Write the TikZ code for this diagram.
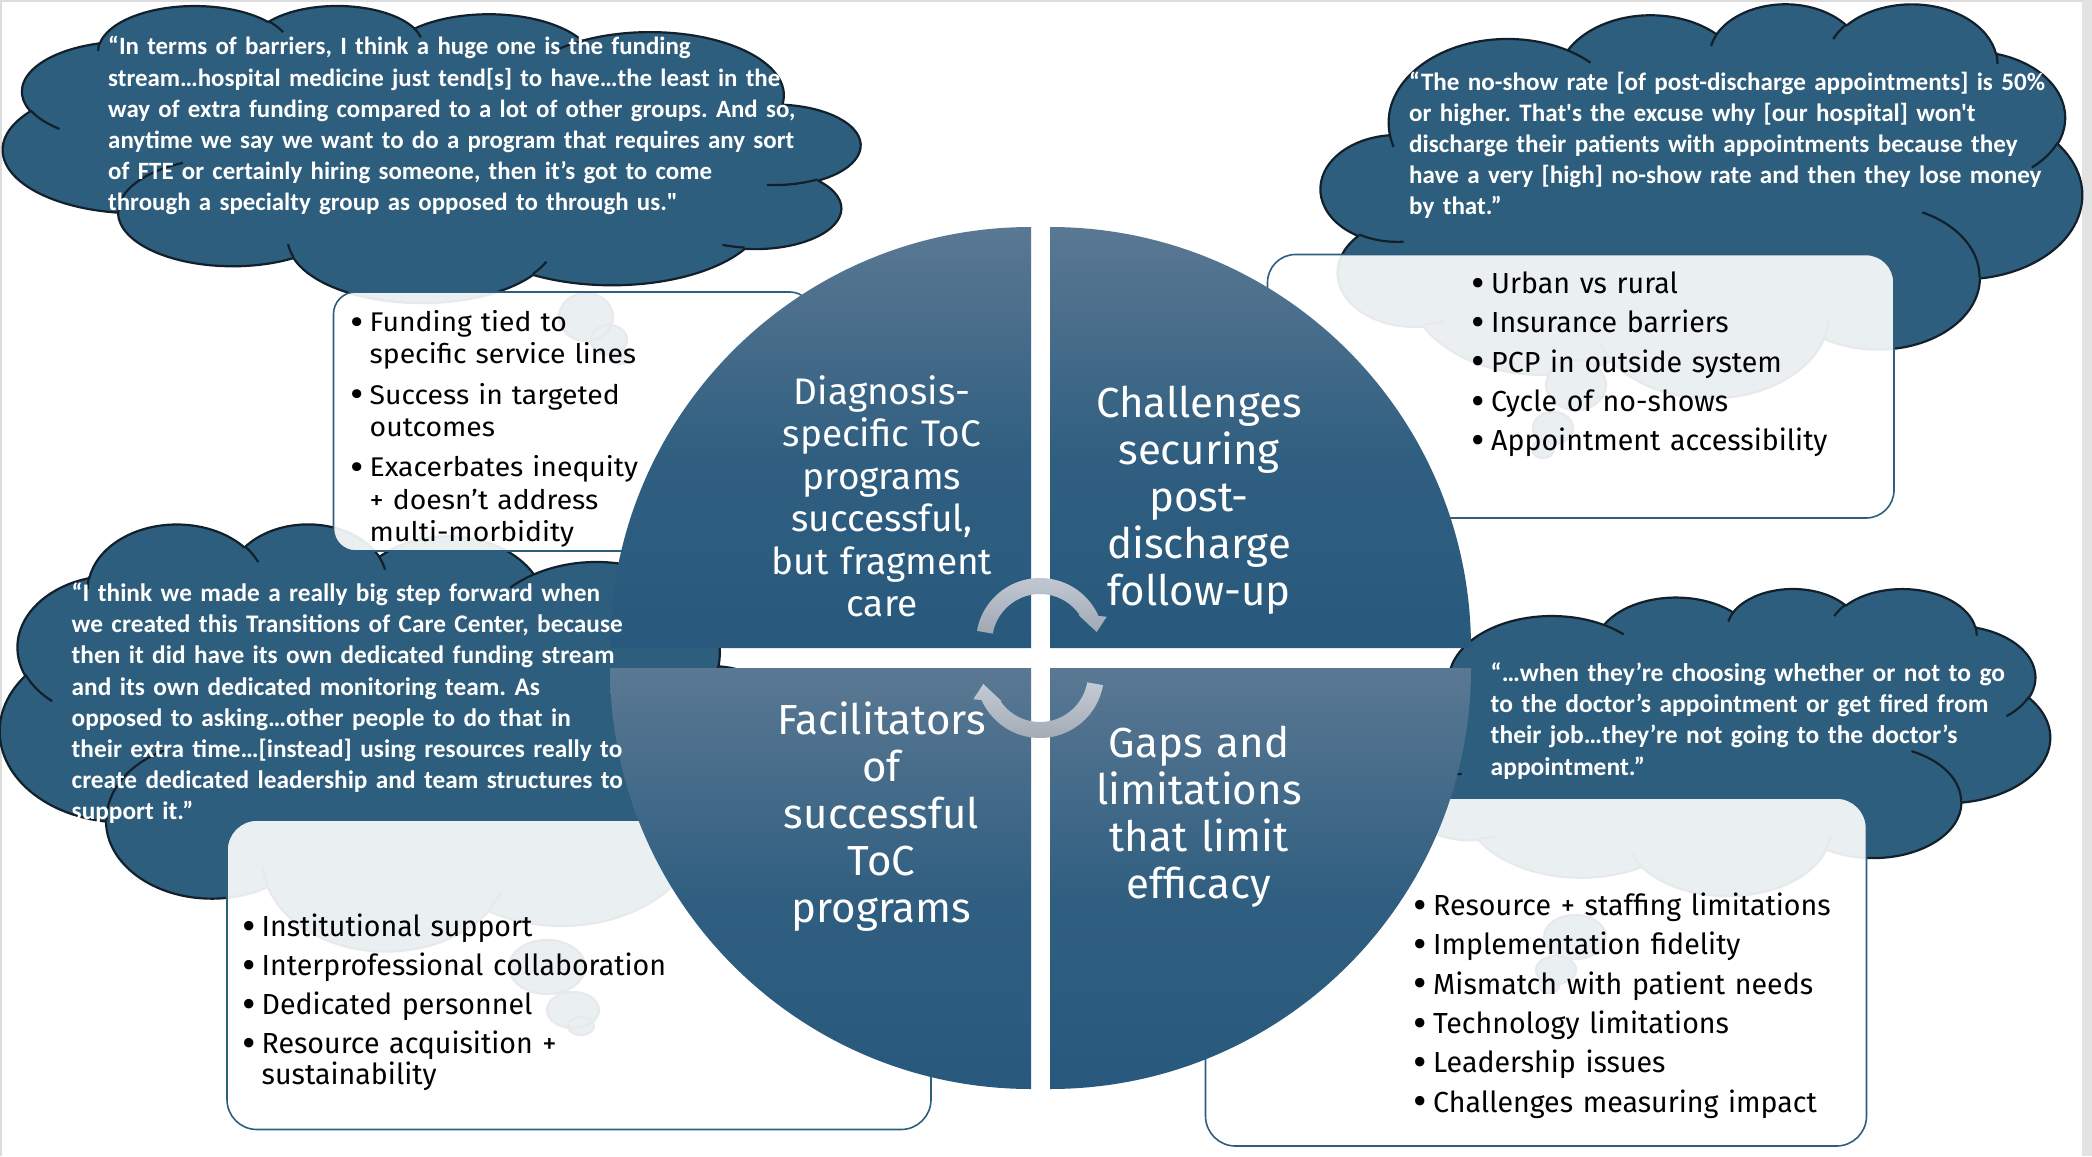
\documentclass[tikz,border=0pt]{standalone}
\usepackage{fontspec}
\usepackage{graphicx}
\newfontfamily\aptos{Fira Sans}
\newfontfamily\aptosw{Fira Sans}[FakeStretch=1.05]
\newfontfamily\aptosn{Fira Sans}[FakeStretch=0.985]
\newfontfamily\quotef{Carlito}
\frenchspacing
\definecolor{cloudblue}{HTML}{2E5E7E}
\definecolor{cloudline}{HTML}{12202C}
\definecolor{boxline}{HTML}{2E5E7E}
\definecolor{qlight}{HTML}{5A7893}
\definecolor{qmid}{HTML}{2F5E80}
\definecolor{qdark}{HTML}{28597C}
\definecolor{arrlight}{HTML}{C4CBD5}
\definecolor{arrdark}{HTML}{A0A8B4}
\definecolor{frameg}{HTML}{DCDCDC}
\pgfdeclareverticalshading{quad}{100bp}{color(0bp)=(qdark); color(25bp)=(qdark); color(47bp)=(qmid); color(75bp)=(qlight); color(100bp)=(qlight)}
\tikzset{
  parc/.style n args={4}{insert path={arc[x radius=#1, y radius=#2,
     start angle={atan2((#1)*sin(#3),(#2)*cos(#3))},
     delta angle={atan2((#1)*sin((#3)+(#4)),(#2)*cos((#3)+(#4)))-atan2((#1)*sin(#3),(#2)*cos(#3))-360*round((atan2((#1)*sin((#3)+(#4)),(#2)*cos((#3)+(#4)))-atan2((#1)*sin(#3),(#2)*cos(#3))-(#4))/360)}]}},
  cloudrest/.style={insert path={[parc={67.53}{91.90}{-190.4875}{123.7805}] [parc={53.33}{72.67}{-144.1024}{89.9452}] [parc={43.65}{59.45}{-145.8079}{99.7230}] [parc={48.57}{65.95}{-130.9861}{117.2417}] [parc={53.33}{72.73}{-78.7089}{109.0269}] [parc={67.75}{92.20}{-46.2673}{130.2690}] [parc={57.85}{78.67}{0.6250}{114.0333}] [parc={67.52}{92.15}{22.4516}{115.1726}] [parc={77.20}{105.43}{66.2426}{75.7110}] [parc={43.60}{59.18}{-274.9421}{146.7356}] [parc={43.45}{59.45}{-246.8285}{152.5189}] -- cycle}},
  innerrest/.style={insert path={[parc={43.45}{59.45}{86.742}{26.4295}] (69.28,348.99) [parc={43.60}{59.18}{73.6105}{11.4475}] (164.78,390.90) [parc={67.52}{92.15}{137.6242}{14.0811}] (288.27,347.51) [parc={67.52}{92.15}{6.4533}{15.9984}] (341.29,229.54) [parc={57.85}{78.67}{-70.2924}{70.9174}] (417.98,153.54) [parc={53.33}{72.73}{30.3180}{27.7515}] (383.24,54.26) [parc={48.57}{65.95}{-13.7443}{14.8589}] (290.78,39.52) [parc={48.57}{65.95}{-149.1815}{18.1954}] (221.41,47.20) [parc={43.65}{59.45}{-163.4943}{17.6864}] (140.00,51.92) [parc={67.53}{91.90}{-66.7070}{12.3194}] (41.27,157.89) [parc={67.53}{91.90}{157.6544}{11.8582}]}},
  cloudbody/.style={fill=cloudblue, draw=cloudline, line width=2.2pt},
  cloudinner/.style={draw=cloudline, line width=2.2pt},
  boxstyle/.style={draw=boxline, line width=1.6pt, fill=white, fill opacity=0.9},
  qlabel/.style={text=white, align=center, anchor=base, inner sep=0pt, text width=340pt},
  quotetext/.style={text=white, align=left, anchor=base west, inner sep=0pt, text width=820pt},
  bullettext/.style={text=black, align=left, anchor=base west, inner sep=0pt, text width=560pt},
}
\newcommand\bu{\makebox[15.5pt][l]{\hspace*{-4pt}\raisebox{-0.13em}{\scalebox{1.45}{•}}}}
\newcommand\ind{\hspace*{15.5pt}}
\newcommand\qfont[1]{\quotef\bfseries\fontsize{#1}{31.1}\selectfont}
\begin{document}
\begin{tikzpicture}[x=1pt, y=-1pt, line join=round]
\useasboundingbox (0,0) rectangle (2092,1156);
\fill[white] (0,0) rectangle (2092,1156);
\fill[frameg] (0,0) rectangle (2092,2);
\fill[frameg] (0,0) rectangle (2,1156);
\fill[frameg!80] (2082,0) rectangle (2092,1156);

% ---- clouds ----
\begin{scope}[shift={(860,5)}, xscale=-1.98380, yscale=0.6875]
  \path[cloudbody] (39.00,143.70) [cloudrest];
  \path[cloudinner] (46.93,261.77) [innerrest];
\end{scope}
\begin{scope}[shift={(1321,3)}, xscale=1.76157, yscale=0.91204]
  \path[cloudbody] (39.00,143.70) [cloudrest];
  \path[cloudinner] (46.93,261.77) [innerrest];
\end{scope}
\begin{scope}[shift={(790,523)}, xscale=-1.82870, yscale=0.98843]
  \path[cloudbody] (39.00,143.70) [cloudrest];
  \path[cloudinner] (46.93,261.77) [innerrest];
\end{scope}
\begin{scope}[shift={(1390,588)}, xscale=1.52778, yscale=0.71065]
  \path[cloudbody] (39.00,143.70) [cloudrest];
  \path[cloudinner] (46.93,261.77) [innerrest];
\end{scope}
% callout tails
\path[cloudbody] (586,317) ellipse[x radius=27, y radius=24] (609,340) ellipse[x radius=18, y radius=15] (621,356) ellipse[x radius=9, y radius=8];
\path[cloudbody] (1576,385) ellipse[x radius=30, y radius=25] (1553,428) ellipse[x radius=20, y radius=16] (1543,449) ellipse[x radius=11, y radius=9];
\path[cloudbody] (547,967) ellipse[x radius=38, y radius=27] (573,1010) ellipse[x radius=26, y radius=18] (581,1026) ellipse[x radius=13, y radius=9];
\path[cloudbody] (1575,937) ellipse[x radius=31, y radius=22] (1556,970) ellipse[x radius=20, y radius=14] (1549,986) ellipse[x radius=10, y radius=7];

% ---- boxes ----
\draw[boxstyle, rounded corners=22pt] (333.5,292) rectangle (812,551);
\draw[boxstyle, rounded corners=28pt] (1267.5,254.5) rectangle (1894,518);
\draw[boxstyle, rounded corners=30pt] (227,820) rectangle (931,1129.5);
\draw[boxstyle, rounded corners=30pt] (1205.5,798) rectangle (1866.5,1146);

% ---- quadrants ----
\shade[shading=quad] (1031,648) -- (610,648) arc[start angle=180, end angle=270, radius=421] -- cycle;
\shade[shading=quad] (1050,648) -- (1050,227) arc[start angle=270, end angle=360, radius=421] -- cycle;
\shade[shading=quad] (1031,668) -- (1031,1089) arc[start angle=90, end angle=180, radius=421] -- cycle;
\shade[shading=quad] (1050,668) -- (1471,668) arc[start angle=0, end angle=90, radius=421] -- cycle;

% ---- cycle arrows ----
\shade[top color=arrlight, bottom color=arrdark] (976.97,630.89) arc[start angle=190, end angle=336, radius=64] -- (1106.7,616.7) -- (1096.7,632) -- (1078.5,615) -- (1079.71,615.02) arc[start angle=325.8, end angle=190, radius=48] -- cycle;
\shade[top color=arrlight, bottom color=arrdark] (1103.03,685.11) arc[start angle=10, end angle=156, radius=64] -- (973.3,699.3) -- (983.3,684) -- (1001.5,701) -- (1000.29,700.98) arc[start angle=145.8, end angle=10, radius=48] -- cycle;

% ---- quadrant labels ----
\node[qlabel, font=\aptos\fontsize{37}{42.5}\selectfont] (qtl) at (882,404) {Diagnosis-\\specific ToC\\programs\\successful,\\but fragment\\care};
\node[qlabel, font=\aptos\fontsize{42}{47}\selectfont] (qtr) at (1199,417) {Challenges\\securing\\post-\\discharge\\follow-up};
\node[qlabel, font=\aptos\fontsize{42}{47}\selectfont] (qbl) at (881.5,734) {Facilitators\\of\\successful\\ToC\\programs};
\node[qlabel, font=\aptos\fontsize{42}{47}\selectfont] (qbr) at (1199,757) {Gaps and\\limitations\\that limit\\efficacy};

% ---- quotes ----
\node[quotetext, font=\qfont{24.9}] (quotetl) at (108,55) {“In terms of barriers, I think a huge one is the funding\\
stream…hospital medicine just tend[s] to have…the least in the\\
way of extra funding compared to a lot of other groups. And so,\\
anytime we say we want to do a program that requires any sort\\
of FTE or certainly hiring someone, then it’s got to come\\
through a specialty group as opposed to through us."};
\node[quotetext, font=\qfont{25.1}] (quotetr) at (1409,90) {“The no-show rate [of post-discharge appointments] is 50\%\\
or higher. That's the excuse why [our hospital] won't\\
discharge their patients with appointments because they\\
have a very [high] no-show rate and then they lose money\\
by that.”};
\node[quotetext, font=\qfont{25.3}] (quotebl) at (71.5,601.7) {“I think we made a really big step forward when\\
we created this Transitions of Care Center, because\\
then it did have its own dedicated funding stream\\
and its own dedicated monitoring team. As\\
opposed to asking…other people to do that in\\
their extra time…[instead] using resources really to\\
create dedicated leadership and team structures to\\
support it.”};
\node[quotetext, font=\qfont{25.5}] (quotebr) at (1490.5,681.7) {“…when they’re choosing whether or not to go\\
to the doctor’s appointment or get fired from\\
their job…they’re not going to the doctor’s\\
appointment.”};

% ---- bullet lists ----
\node[bullettext, font=\aptosw\fontsize{27}{32.3}\selectfont] (listtl) at (354,331.5) {\bu Funding tied to\\\ind specific service lines\\[8.1pt]\bu Success in targeted\\\ind outcomes\\[8.1pt]\bu Exacerbates inequity\\\ind + doesn’t address\\\ind multi-morbidity};
\node[bullettext, font=\aptosn\fontsize{29}{39.3}\selectfont] (listtr) at (1475.5,293.5) {\bu Urban vs rural\\\bu Insurance barriers\\\bu PCP in outside system\\\bu Cycle of no-shows\\\bu Appointment accessibility};
\node[bullettext, font=\aptosn\fontsize{29}{31}\selectfont] (listbl) at (246,936.5) {\bu Institutional support\\[8pt]\bu Interprofessional collaboration\\[8pt]\bu Dedicated personnel\\[8pt]\bu Resource acquisition +\\\ind sustainability};
\node[bullettext, font=\aptosn\fontsize{29}{39.3}\selectfont] (listbr) at (1417.5,915.5) {\bu Resource + staffing limitations\\\bu Implementation fidelity\\\bu Mismatch with patient needs\\\bu Technology limitations\\\bu Leadership issues\\\bu Challenges measuring impact};
\end{tikzpicture}
\end{document}
